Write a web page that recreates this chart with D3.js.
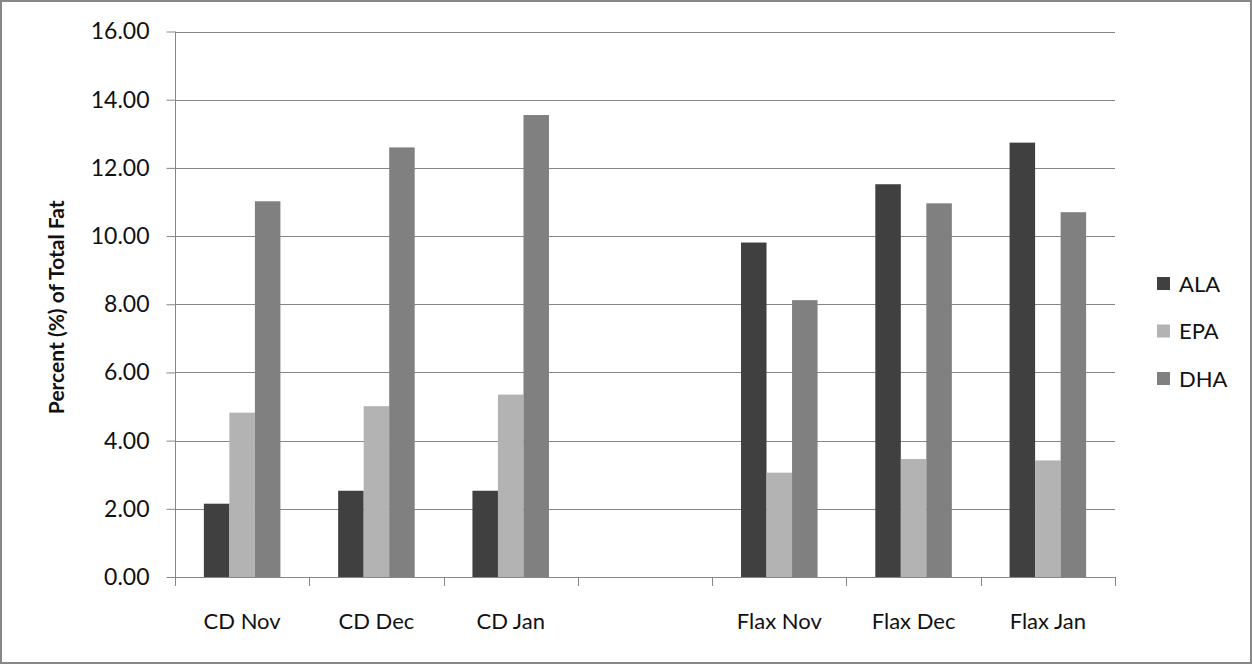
<!DOCTYPE html>
<html>
<head>
<meta charset="utf-8">
<script src="https://cdn.jsdelivr.net/npm/d3@7/dist/d3.min.js"></script>
<style>
  html, body { margin: 0; padding: 0; background: #fff; }
  svg { display: block; }
  text { font-family: Lato, "Open Sans", sans-serif; fill: #111; }
</style>
</head>
<body>
<svg id="chart" width="1252" height="664"></svg>
<script>
// Omega-3 fatty acids as percent of total fat, by diet and month
const categories = ["CD Nov", "CD Dec", "CD Jan", "", "Flax Nov", "Flax Dec", "Flax Jan"];
const seriesNames = ["ALA", "EPA", "DHA"];
const alaValues = [2.15, 2.53, 2.53, null, 9.81, 11.52, 12.74];
const epaValues = [4.82, 5.01, 5.35, null, 3.06, 3.46, 3.42];
const dhaValues = [11.02, 12.60, 13.55, null, 8.12, 10.96, 10.70];
const yTicks = [0, 2, 4, 6, 8, 10, 12, 14, 16];
const seriesColors = ["#404040", "#b3b3b3", "#808080"];

const seriesValues = [alaValues, epaValues, dhaValues];

const W = 1252, H = 664;
const plot = { left: 175, right: 1115, top: 31.5, bottom: 577 };
const gridColor = "#868686";

const svg = d3.select("#chart");

// outer frame
svg.append("rect")
  .attr("x", 1).attr("y", 1)
  .attr("width", W - 2).attr("height", H - 2)
  .attr("fill", "#fff")
  .attr("stroke", "#878787")
  .attr("stroke-width", 2);

// category keys must be unique for the band scale; the blank slot keeps its gap
const keys = categories.map((c, i) => i);
const x = d3.scaleBand().domain(keys).range([plot.left, plot.right]).paddingInner(0).paddingOuter(0);
const y = d3.scaleLinear().domain([0, 16]).range([plot.bottom, plot.top]);

const barW = x.bandwidth() * 0.19;
const xInner = d3.scaleBand().domain(seriesNames)
  .range([(x.bandwidth() - 3 * barW) / 2, (x.bandwidth() + 3 * barW) / 2]);

// horizontal gridlines
svg.append("g")
  .selectAll("line")
  .data(yTicks)
  .join("line")
  .attr("x1", plot.left).attr("x2", plot.right)
  .attr("y1", d => Math.round(y(d)) + 0.5).attr("y2", d => Math.round(y(d)) + 0.5)
  .attr("stroke", gridColor).attr("stroke-width", 1);

// y axis
const yAxis = d3.axisLeft(y)
  .tickValues(yTicks)
  .tickFormat(d3.format(".2f"))
  .tickSize(9)
  .tickPadding(17);
const gy = svg.append("g")
  .attr("transform", `translate(${plot.left + 0.5},0)`)
  .call(yAxis);
gy.select(".domain").attr("stroke", gridColor).attr("d", `M0,${plot.top}V${plot.bottom}`);
gy.selectAll(".tick line").attr("stroke", gridColor);
gy.selectAll(".tick text")
  .style("font-size", "23px")
  .attr("fill", "#111");

// x axis: ticks sit on band boundaries
const boundaries = keys.map(k => x(k)).concat([plot.right]);
const gx = svg.append("g");
gx.append("line")
  .attr("x1", plot.left).attr("x2", plot.right)
  .attr("y1", Math.round(y(0)) + 0.5).attr("y2", Math.round(y(0)) + 0.5)
  .attr("stroke", gridColor);
gx.selectAll("line.tick")
  .data(boundaries)
  .join("line")
  .attr("class", "tick")
  .attr("x1", d => Math.round(d) + 0.5).attr("x2", d => Math.round(d) + 0.5)
  .attr("y1", Math.round(y(0))).attr("y2", Math.round(y(0)) + 9)
  .attr("stroke", gridColor);
gx.selectAll("text")
  .data(keys)
  .join("text")
  .attr("x", d => x(d) + x.bandwidth() / 2)
  .attr("y", 629)
  .attr("text-anchor", "middle")
  .style("font-size", "22px")
  .text(d => categories[d]);

// bars
const groups = svg.append("g")
  .selectAll("g")
  .data(keys)
  .join("g")
  .attr("transform", d => `translate(${x(d)},0)`);
groups.selectAll("rect")
  .data(k => seriesNames.map((s, i) => ({ s, i, v: seriesValues[i][k] })).filter(d => d.v != null))
  .join("rect")
  .attr("x", d => xInner(d.s))
  .attr("width", xInner.bandwidth())
  .attr("y", d => y(d.v))
  .attr("height", d => y(0) - y(d.v))
  .attr("fill", d => seriesColors[d.i]);

// y axis title
svg.append("text")
  .attr("transform", `translate(64,${(plot.top + plot.bottom) / 2 + 3}) rotate(-90)`)
  .attr("text-anchor", "middle")
  .style("font-size", "21px")
  .style("font-weight", "bold")
  .text("Percent (%) of Total Fat");

// legend
const legend = svg.append("g")
  .selectAll("g")
  .data(seriesNames)
  .join("g")
  .attr("transform", (d, i) => `translate(1157,${284 + i * 47.5})`);
legend.append("rect")
  .attr("x", 0).attr("y", -7)
  .attr("width", 13).attr("height", 13)
  .attr("fill", (d, i) => seriesColors[i]);
legend.append("text")
  .attr("x", 22).attr("y", 0)
  .attr("dy", "0.35em")
  .style("font-size", "22px")
  .text(d => d);
</script>
</body>
</html>
